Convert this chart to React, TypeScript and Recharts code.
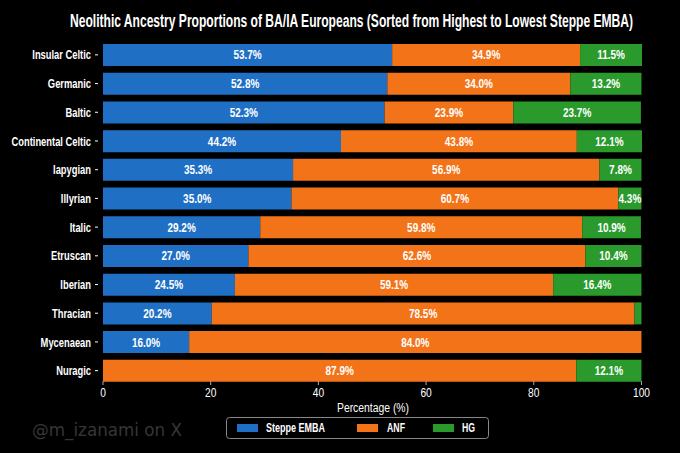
import React from "react";
import { BarChart, Bar, XAxis, YAxis, LabelList } from "recharts";

const categories = [
  "Insular Celtic", "Germanic", "Baltic", "Continental Celtic", "Iapygian", "Illyrian",
  "Italic", "Etruscan", "Iberian", "Thracian", "Mycenaean", "Nuragic",
];
const steppe = [53.7, 52.8, 52.3, 44.2, 35.3, 35.0, 29.2, 27.0, 24.5, 20.2, 16.0, 0];
const anf = [34.9, 34.0, 23.9, 43.8, 56.9, 60.7, 59.8, 62.6, 59.1, 78.5, 84.0, 87.9];
const hg = [11.5, 13.2, 23.7, 12.1, 7.8, 4.3, 10.9, 10.4, 16.4, 1.3, 0, 12.1];
const xTicks = [0, 20, 40, 60, 80, 100];

const data = categories.map((name, i) => ({ name, steppe: steppe[i], anf: anf[i], hg: hg[i] }));

const BLUE = "#1f6fc5";
const ORANGE = "#f27318";
const GREEN = "#2a9a2c";
const FONT = "'Liberation Sans', Arial, sans-serif";

const SegLabel = (props: any) => {
  const { x, y, width, height, value } = props;
  if (typeof value !== "number" || value < 3) return null;
  const cx = x + width / 2;
  const cy = y + height / 2;
  return (
    <text
      transform={`translate(${cx},${cy}) scale(0.8,1)`}
      textAnchor="middle"
      dominantBaseline="central"
      fill="#fff"
      fontSize={12.5}
      fontWeight={700}
      fontFamily={FONT}
    >
      {value.toFixed(1) + "%"}
    </text>
  );
};

const YTick = (props: any) => {
  const { x, y, payload } = props;
  return (
    <g>
      <line x1={x - 8} x2={x - 5} y1={y} y2={y} stroke="#fff" strokeWidth={1} />
      <text
        transform={`translate(${x - 12},${y}) scale(0.72,1)`}
        textAnchor="end"
        dominantBaseline="central"
        fill="#fff"
        fontSize={13}
        fontWeight={700}
        fontFamily={FONT}
      >
        {payload.value}
      </text>
    </g>
  );
};

const XTick = (props: any) => {
  const { x, y, payload } = props;
  return (
    <g>
      <line x1={x} x2={x} y1={y - 4} y2={y} stroke="#aaa" strokeWidth={1} />
      <text
        transform={`translate(${x},${y + 8}) scale(0.85,1)`}
        textAnchor="middle"
        dominantBaseline="central"
        fill="#fff"
        fontSize={12}
        fontFamily={FONT}
      >
        {payload.value}
      </text>
    </g>
  );
};

export default function App() {
  return (
    <div style={{ position: "fixed", left: 0, top: 0, width: 680, height: 453, background: "#000", overflow: "hidden" }}>
      <BarChart
        width={680}
        height={453}
        data={data}
        layout="vertical"
        margin={{ top: 40.5, right: 38, left: 0, bottom: 48 }}
        barCategoryGap={3.5}
      >
        <XAxis
          type="number"
          domain={[0, 100]}
          ticks={xTicks}
          axisLine={false}
          tickLine={false}
          tickSize={0}
          tickMargin={0}
          tick={<XTick />}
          height={20}
        />
        <YAxis
          type="category"
          dataKey="name"
          width={103}
          axisLine={false}
          tickLine={false}
          tickSize={0}
          tickMargin={0}
          tick={<YTick />}
        />
        <Bar dataKey="steppe" stackId="a" fill={BLUE} isAnimationActive={false}>
          <LabelList dataKey="steppe" content={<SegLabel />} />
        </Bar>
        <Bar dataKey="anf" stackId="a" fill={ORANGE} isAnimationActive={false}>
          <LabelList dataKey="anf" content={<SegLabel />} />
        </Bar>
        <Bar dataKey="hg" stackId="a" fill={GREEN} isAnimationActive={false}>
          <LabelList dataKey="hg" content={<SegLabel />} />
        </Bar>
      </BarChart>
      <svg width={680} height={453} style={{ position: "absolute", left: 0, top: 0, pointerEvents: "none" }}>
        <text x={70} y={27} textLength={563} lengthAdjust="spacingAndGlyphs" fill="#fff" fontSize={18} fontWeight={700} fontFamily={FONT}>
          Neolithic Ancestry Proportions of BA/IA Europeans (Sorted from Highest to Lowest Steppe EMBA)
        </text>
        <text x={337} y={412} textLength={72} lengthAdjust="spacingAndGlyphs" fill="#fff" fontSize={12.5} fontFamily={FONT}>
          Percentage (%)
        </text>
        <rect x={226.5} y={417.5} width={262} height={21} rx={3} fill="#000" stroke="#888" strokeWidth={1} />
        <rect x={237} y={424} width={21} height={8} fill={BLUE} />
        <text x={266} y={432} textLength={59} lengthAdjust="spacingAndGlyphs" fill="#fff" fontSize={12} fontWeight={700} fontFamily={FONT}>
          Steppe EMBA
        </text>
        <rect x={357} y={424} width={21} height={8} fill={ORANGE} />
        <text x={387} y={432} textLength={18} lengthAdjust="spacingAndGlyphs" fill="#fff" fontSize={12} fontWeight={700} fontFamily={FONT}>
          ANF
        </text>
        <rect x={433} y={424} width={21} height={8} fill={GREEN} />
        <text x={462} y={432} textLength={13} lengthAdjust="spacingAndGlyphs" fill="#fff" fontSize={12} fontWeight={700} fontFamily={FONT}>
          HG
        </text>
        <text x={32} y={436} textLength={150} lengthAdjust="spacingAndGlyphs" fill="#363636" fontSize={18} fontFamily="'DejaVu Sans', sans-serif">
          @m_izanami on X
        </text>
      </svg>
    </div>
  );
}
